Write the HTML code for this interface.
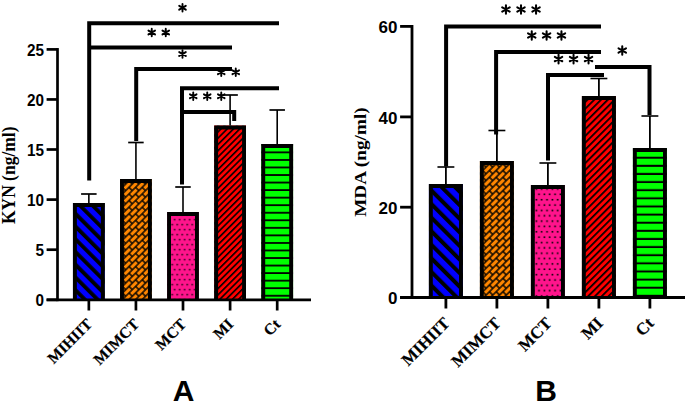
<!DOCTYPE html>
<html><head><meta charset="utf-8"><title>Chart</title>
<style>html,body{margin:0;padding:0;background:#fff;}body{width:685px;height:412px;overflow:hidden;font-family:"Liberation Sans", sans-serif;}svg{display:block;}</style>
</head><body>
<svg width="685" height="412" viewBox="0 0 685 412"><defs><pattern id="ablue" patternUnits="userSpaceOnUse" width="8.994" height="8.994" patternTransform="translate(0 1.080) rotate(-45)"><rect width="8.994" height="8.994" fill="#0000ff"/><rect width="3.778" height="8.994" fill="#000"/></pattern><pattern id="ared" patternUnits="userSpaceOnUse" width="4.432" height="4.432" patternTransform="translate(0 4.000) rotate(45)"><rect width="4.432" height="4.432" fill="#ff0000"/><rect width="1.595" height="4.432" fill="#000"/></pattern><pattern id="agreen" patternUnits="userSpaceOnUse" width="10" height="7.545" patternTransform="translate(0 2.400)"><rect width="10" height="7.545" fill="#00ff00"/><rect y="5.745" width="10" height="1.800" fill="#000"/></pattern><pattern id="apink" patternUnits="userSpaceOnUse" width="5.000" height="10.000" patternTransform="translate(3.450 7.200)"><rect width="5.000" height="10.000" fill="#ff148c"/><rect x="0.530" y="1.780" width="1.440" height="1.440" fill="#000"/><rect x="3.030" y="6.780" width="1.440" height="1.440" fill="#000"/></pattern><pattern id="aorange" patternUnits="userSpaceOnUse" width="9.330" height="9.340" patternTransform="translate(3.450 2.450) rotate(-45)"><rect width="9.330" height="9.340" fill="#000"/><rect x="0.700" y="0.700" width="7.930" height="3.270" fill="#ff8600"/><rect x="-3.965" y="5.370" width="7.930" height="3.270" fill="#ff8600"/><rect x="5.365" y="5.370" width="7.930" height="3.270" fill="#ff8600"/></pattern><pattern id="bblue" patternUnits="userSpaceOnUse" width="9.600" height="9.600" patternTransform="translate(0 -7.300) rotate(-45)"><rect width="9.600" height="9.600" fill="#0000ff"/><rect width="4.032" height="9.600" fill="#000"/></pattern><pattern id="bred" patternUnits="userSpaceOnUse" width="4.808" height="4.808" patternTransform="translate(0 5.980) rotate(45)"><rect width="4.808" height="4.808" fill="#ff0000"/><rect width="1.731" height="4.808" fill="#000"/></pattern><pattern id="bgreen" patternUnits="userSpaceOnUse" width="10" height="8.125" patternTransform="translate(0 4.325)"><rect width="10" height="8.125" fill="#00ff00"/><rect y="6.125" width="10" height="2.000" fill="#000"/></pattern><pattern id="bpink" patternUnits="userSpaceOnUse" width="5.350" height="10.700" patternTransform="translate(0.000 4.450)"><rect width="5.350" height="10.700" fill="#ff148c"/><rect x="0.537" y="1.875" width="1.600" height="1.600" fill="#000"/><rect x="3.212" y="7.225" width="1.600" height="1.600" fill="#000"/></pattern><pattern id="borange" patternUnits="userSpaceOnUse" width="9.517" height="9.527" patternTransform="translate(4.520 1.930) rotate(-45)"><rect width="9.517" height="9.527" fill="#000"/><rect x="0.714" y="0.714" width="8.089" height="3.335" fill="#ff8600"/><rect x="-4.044" y="5.477" width="8.089" height="3.335" fill="#ff8600"/><rect x="5.472" y="5.477" width="8.089" height="3.335" fill="#ff8600"/></pattern></defs><rect width="685" height="412" fill="#fff"/><line x1="88.85" y1="194" x2="88.85" y2="203" stroke="#000" stroke-width="1.6" stroke-linecap="butt"/><line x1="81.1" y1="194" x2="96.6" y2="194" stroke="#000" stroke-width="1.7" stroke-linecap="butt"/><rect x="72.95" y="203.00" width="31.80" height="96.80" fill="url(#ablue)"/><path d="M74.90 299.80V204.95H102.80V299.80" fill="none" stroke="#000" stroke-width="3.9" stroke-linejoin="miter"/><line x1="135.93" y1="142.5" x2="135.93" y2="179" stroke="#000" stroke-width="1.6" stroke-linecap="butt"/><line x1="128.18" y1="142.5" x2="143.68" y2="142.5" stroke="#000" stroke-width="1.7" stroke-linecap="butt"/><rect x="120.03" y="179.00" width="31.80" height="120.80" fill="url(#aorange)"/><path d="M121.98 299.80V180.95H149.88V299.80" fill="none" stroke="#000" stroke-width="3.9" stroke-linejoin="miter"/><line x1="183.0" y1="187" x2="183.0" y2="212" stroke="#000" stroke-width="1.6" stroke-linecap="butt"/><line x1="175.25" y1="187" x2="190.75" y2="187" stroke="#000" stroke-width="1.7" stroke-linecap="butt"/><rect x="167.10" y="212.00" width="31.80" height="87.80" fill="url(#apink)"/><path d="M169.05 299.80V213.95H196.95V299.80" fill="none" stroke="#000" stroke-width="3.9" stroke-linejoin="miter"/><line x1="230.1" y1="95" x2="230.1" y2="125.5" stroke="#000" stroke-width="1.6" stroke-linecap="butt"/><line x1="222.35" y1="95" x2="237.85" y2="95" stroke="#000" stroke-width="1.7" stroke-linecap="butt"/><rect x="214.20" y="125.50" width="31.80" height="174.30" fill="url(#ared)"/><path d="M216.15 299.80V127.45H244.05V299.80" fill="none" stroke="#000" stroke-width="3.9" stroke-linejoin="miter"/><line x1="277.2" y1="110" x2="277.2" y2="144" stroke="#000" stroke-width="1.6" stroke-linecap="butt"/><line x1="269.45" y1="110" x2="284.95" y2="110" stroke="#000" stroke-width="1.7" stroke-linecap="butt"/><rect x="261.30" y="144.00" width="31.80" height="155.80" fill="url(#agreen)"/><path d="M263.25 299.80V145.95H291.15V299.80" fill="none" stroke="#000" stroke-width="3.9" stroke-linejoin="miter"/><line x1="57.5" y1="48.05" x2="57.5" y2="301.15000000000003" stroke="#000" stroke-width="2.7" stroke-linecap="butt"/><line x1="46.6" y1="299.8" x2="311" y2="299.8" stroke="#000" stroke-width="2.7" stroke-linecap="butt"/><line x1="46.6" y1="299.8" x2="57.5" y2="299.8" stroke="#000" stroke-width="2.7" stroke-linecap="butt"/><text transform="translate(43.9 306.10) scale(0.9 1)" text-anchor="end" font-family='"Liberation Sans", sans-serif' font-weight="bold" font-size="17">0</text><line x1="46.6" y1="249.7" x2="57.5" y2="249.7" stroke="#000" stroke-width="2.7" stroke-linecap="butt"/><text transform="translate(43.9 256.00) scale(0.9 1)" text-anchor="end" font-family='"Liberation Sans", sans-serif' font-weight="bold" font-size="17">5</text><line x1="46.6" y1="199.6" x2="57.5" y2="199.6" stroke="#000" stroke-width="2.7" stroke-linecap="butt"/><text transform="translate(43.9 205.90) scale(0.9 1)" text-anchor="end" font-family='"Liberation Sans", sans-serif' font-weight="bold" font-size="17">10</text><line x1="46.6" y1="149.5" x2="57.5" y2="149.5" stroke="#000" stroke-width="2.7" stroke-linecap="butt"/><text transform="translate(43.9 155.80) scale(0.9 1)" text-anchor="end" font-family='"Liberation Sans", sans-serif' font-weight="bold" font-size="17">15</text><line x1="46.6" y1="99.45" x2="57.5" y2="99.45" stroke="#000" stroke-width="2.7" stroke-linecap="butt"/><text transform="translate(43.9 105.75) scale(0.9 1)" text-anchor="end" font-family='"Liberation Sans", sans-serif' font-weight="bold" font-size="17">20</text><line x1="46.6" y1="49.4" x2="57.5" y2="49.4" stroke="#000" stroke-width="2.7" stroke-linecap="butt"/><text transform="translate(43.9 55.70) scale(0.9 1)" text-anchor="end" font-family='"Liberation Sans", sans-serif' font-weight="bold" font-size="17">25</text><line x1="88.85" y1="299.8" x2="88.85" y2="310.5" stroke="#000" stroke-width="2.7" stroke-linecap="butt"/><line x1="135.93" y1="299.8" x2="135.93" y2="310.5" stroke="#000" stroke-width="2.7" stroke-linecap="butt"/><line x1="183.0" y1="299.8" x2="183.0" y2="310.5" stroke="#000" stroke-width="2.7" stroke-linecap="butt"/><line x1="230.1" y1="299.8" x2="230.1" y2="310.5" stroke="#000" stroke-width="2.7" stroke-linecap="butt"/><line x1="277.2" y1="299.8" x2="277.2" y2="310.5" stroke="#000" stroke-width="2.7" stroke-linecap="butt"/><text transform="translate(93.05 325.20) rotate(-45)" text-anchor="end" font-family='"Liberation Serif", serif' font-weight="bold" font-size="15.6" stroke="#000" stroke-width="0.2">MIHIIT</text><text transform="translate(140.13 325.20) rotate(-45)" text-anchor="end" font-family='"Liberation Serif", serif' font-weight="bold" font-size="15.6" stroke="#000" stroke-width="0.2">MIMCT</text><text transform="translate(187.20 325.20) rotate(-45)" text-anchor="end" font-family='"Liberation Serif", serif' font-weight="bold" font-size="15.6" stroke="#000" stroke-width="0.2">MCT</text><text transform="translate(234.30 325.20) rotate(-45)" text-anchor="end" font-family='"Liberation Serif", serif' font-weight="bold" font-size="15.6" stroke="#000" stroke-width="0.2">MI</text><text transform="translate(281.40 325.20) rotate(-45)" text-anchor="end" font-family='"Liberation Serif", serif' font-weight="bold" font-size="15.6" stroke="#000" stroke-width="0.2">Ct</text><text transform="translate(14.6 175.3) rotate(-90)" text-anchor="middle" font-family='"Liberation Serif", serif' font-weight="bold" font-size="17.8" textLength="97.5" lengthAdjust="spacingAndGlyphs">KYN (ng/ml)</text><text x="183.7" y="401" text-anchor="middle" font-family='"Liberation Sans", sans-serif' font-weight="bold" font-size="30">A</text><path d="M89.2 180.5 L89.2 23.2 L279 23.2" stroke="#000" stroke-width="4" fill="none" stroke-linejoin="miter" stroke-linecap="butt"/><path d="M89.2 47.5 L232 47.5" stroke="#000" stroke-width="4" fill="none" stroke-linejoin="miter" stroke-linecap="butt"/><path d="M136.2 141 L136.2 69 L232 69" stroke="#000" stroke-width="4" fill="none" stroke-linejoin="miter" stroke-linecap="butt"/><path d="M182 184.5 L182 88.2 L279 88.2" stroke="#000" stroke-width="4" fill="none" stroke-linejoin="miter" stroke-linecap="butt"/><path d="M182 112 L234.2 112 L234.2 121" stroke="#000" stroke-width="4" fill="none" stroke-linejoin="miter" stroke-linecap="butt"/><path d="M182.50 3.95L182.50 11.55M179.21 5.85L185.79 9.65M185.79 5.85L179.21 9.65" stroke="#000" stroke-width="1.9" stroke-linecap="round" fill="none"/><path d="M151.74 28.70L151.74 36.30M148.45 30.60L155.03 34.40M155.03 30.60L148.45 34.40" stroke="#000" stroke-width="1.9" stroke-linecap="round" fill="none"/><path d="M165.76 28.70L165.76 36.30M162.47 30.60L169.05 34.40M169.05 30.60L162.47 34.40" stroke="#000" stroke-width="1.9" stroke-linecap="round" fill="none"/><path d="M182.50 50.20L182.50 57.80M179.21 52.10L185.79 55.90M185.79 52.10L179.21 55.90" stroke="#000" stroke-width="1.9" stroke-linecap="round" fill="none"/><path d="M221.24 68.45L221.24 76.05M217.95 70.35L224.53 74.15M224.53 70.35L217.95 74.15" stroke="#000" stroke-width="1.9" stroke-linecap="round" fill="none"/><path d="M235.76 68.45L235.76 76.05M232.47 70.35L239.05 74.15M239.05 70.35L232.47 74.15" stroke="#000" stroke-width="1.9" stroke-linecap="round" fill="none"/><path d="M193.24 92.45L193.24 100.05M189.95 94.35L196.53 98.15M196.53 94.35L189.95 98.15" stroke="#000" stroke-width="1.9" stroke-linecap="round" fill="none"/><path d="M207.25 92.45L207.25 100.05M203.96 94.35L210.54 98.15M210.54 94.35L203.96 98.15" stroke="#000" stroke-width="1.9" stroke-linecap="round" fill="none"/><path d="M221.26 92.45L221.26 100.05M217.97 94.35L224.55 98.15M224.55 94.35L217.97 98.15" stroke="#000" stroke-width="1.9" stroke-linecap="round" fill="none"/><line x1="445.9" y1="167" x2="445.9" y2="184" stroke="#000" stroke-width="1.8" stroke-linecap="butt"/><line x1="437.45" y1="167" x2="454.34999999999997" y2="167" stroke="#000" stroke-width="1.6" stroke-linecap="butt"/><rect x="428.90" y="184.00" width="34.00" height="113.50" fill="url(#bblue)"/><path d="M430.85 297.50V185.95H460.95V297.50" fill="none" stroke="#000" stroke-width="3.9" stroke-linejoin="miter"/><line x1="496.9" y1="130.5" x2="496.9" y2="161" stroke="#000" stroke-width="1.8" stroke-linecap="butt"/><line x1="488.45" y1="130.5" x2="505.34999999999997" y2="130.5" stroke="#000" stroke-width="1.6" stroke-linecap="butt"/><rect x="479.90" y="161.00" width="34.00" height="136.50" fill="url(#borange)"/><path d="M481.85 297.50V162.95H511.95V297.50" fill="none" stroke="#000" stroke-width="3.9" stroke-linejoin="miter"/><line x1="547.9" y1="163" x2="547.9" y2="185" stroke="#000" stroke-width="1.8" stroke-linecap="butt"/><line x1="539.4499999999999" y1="163" x2="556.35" y2="163" stroke="#000" stroke-width="1.6" stroke-linecap="butt"/><rect x="530.90" y="185.00" width="34.00" height="112.50" fill="url(#bpink)"/><path d="M532.85 297.50V186.95H562.95V297.50" fill="none" stroke="#000" stroke-width="3.9" stroke-linejoin="miter"/><line x1="598.9" y1="78.5" x2="598.9" y2="96" stroke="#000" stroke-width="1.8" stroke-linecap="butt"/><line x1="590.4499999999999" y1="78.5" x2="607.35" y2="78.5" stroke="#000" stroke-width="1.6" stroke-linecap="butt"/><rect x="581.90" y="96.00" width="34.00" height="201.50" fill="url(#bred)"/><path d="M583.85 297.50V97.95H613.95V297.50" fill="none" stroke="#000" stroke-width="3.9" stroke-linejoin="miter"/><line x1="649.9" y1="116" x2="649.9" y2="148" stroke="#000" stroke-width="1.8" stroke-linecap="butt"/><line x1="641.4499999999999" y1="116" x2="658.35" y2="116" stroke="#000" stroke-width="1.6" stroke-linecap="butt"/><rect x="632.90" y="148.00" width="34.00" height="149.50" fill="url(#bgreen)"/><path d="M634.85 297.50V149.95H664.95V297.50" fill="none" stroke="#000" stroke-width="3.9" stroke-linejoin="miter"/><line x1="412.0" y1="25.0" x2="412.0" y2="298.9" stroke="#000" stroke-width="2.8" stroke-linecap="butt"/><line x1="400.1" y1="297.5" x2="690" y2="297.5" stroke="#000" stroke-width="2.8" stroke-linecap="butt"/><line x1="400.1" y1="297.5" x2="412.0" y2="297.5" stroke="#000" stroke-width="2.8" stroke-linecap="butt"/><text transform="translate(397.4 304.10) scale(1 1)" text-anchor="end" font-family='"Liberation Sans", sans-serif' font-weight="bold" font-size="17">0</text><line x1="400.1" y1="207.2" x2="412.0" y2="207.2" stroke="#000" stroke-width="2.8" stroke-linecap="butt"/><text transform="translate(397.4 213.80) scale(1 1)" text-anchor="end" font-family='"Liberation Sans", sans-serif' font-weight="bold" font-size="17">20</text><line x1="400.1" y1="116.9" x2="412.0" y2="116.9" stroke="#000" stroke-width="2.8" stroke-linecap="butt"/><text transform="translate(397.4 123.50) scale(1 1)" text-anchor="end" font-family='"Liberation Sans", sans-serif' font-weight="bold" font-size="17">40</text><line x1="400.1" y1="26.4" x2="412.0" y2="26.4" stroke="#000" stroke-width="2.8" stroke-linecap="butt"/><text transform="translate(397.4 33.00) scale(1 1)" text-anchor="end" font-family='"Liberation Sans", sans-serif' font-weight="bold" font-size="17">60</text><line x1="445.9" y1="297.5" x2="445.9" y2="308.5" stroke="#000" stroke-width="2.8" stroke-linecap="butt"/><line x1="496.9" y1="297.5" x2="496.9" y2="308.5" stroke="#000" stroke-width="2.8" stroke-linecap="butt"/><line x1="547.9" y1="297.5" x2="547.9" y2="308.5" stroke="#000" stroke-width="2.8" stroke-linecap="butt"/><line x1="598.9" y1="297.5" x2="598.9" y2="308.5" stroke="#000" stroke-width="2.8" stroke-linecap="butt"/><line x1="649.9" y1="297.5" x2="649.9" y2="308.5" stroke="#000" stroke-width="2.8" stroke-linecap="butt"/><text transform="translate(450.80 324.30) rotate(-45)" text-anchor="end" font-family='"Liberation Serif", serif' font-weight="bold" font-size="16.9" stroke="#000" stroke-width="0.2">MIHIIT</text><text transform="translate(501.80 324.30) rotate(-45)" text-anchor="end" font-family='"Liberation Serif", serif' font-weight="bold" font-size="16.9" stroke="#000" stroke-width="0.2">MIMCT</text><text transform="translate(552.80 324.30) rotate(-45)" text-anchor="end" font-family='"Liberation Serif", serif' font-weight="bold" font-size="16.9" stroke="#000" stroke-width="0.2">MCT</text><text transform="translate(603.80 324.30) rotate(-45)" text-anchor="end" font-family='"Liberation Serif", serif' font-weight="bold" font-size="16.9" stroke="#000" stroke-width="0.2">MI</text><text transform="translate(654.80 324.30) rotate(-45)" text-anchor="end" font-family='"Liberation Serif", serif' font-weight="bold" font-size="16.9" stroke="#000" stroke-width="0.2">Ct</text><text transform="translate(365.7 162.05) rotate(-90)" text-anchor="middle" font-family='"Liberation Serif", serif' font-weight="bold" font-size="17.3" textLength="109.5" lengthAdjust="spacingAndGlyphs">MDA (ng/ml)</text><text x="546.2" y="401" text-anchor="middle" font-family='"Liberation Sans", sans-serif' font-weight="bold" font-size="30">B</text><path d="M446.1 166.5 L446.1 26.5 L601 26.5" stroke="#000" stroke-width="4" fill="none" stroke-linejoin="miter" stroke-linecap="butt"/><path d="M496.1 134.6 L496.1 52 L601 52" stroke="#000" stroke-width="4" fill="none" stroke-linejoin="miter" stroke-linecap="butt"/><path d="M548 160.5 L548 75 L604 75" stroke="#000" stroke-width="4" fill="none" stroke-linejoin="miter" stroke-linecap="butt"/><path d="M595 67 L649.5 67 L649.5 115" stroke="#000" stroke-width="4" fill="none" stroke-linejoin="miter" stroke-linecap="butt"/><path d="M505.95 5.15L505.95 13.75M502.23 7.30L509.67 11.60M509.67 7.30L502.23 11.60" stroke="#000" stroke-width="2.05" stroke-linecap="round" fill="none"/><path d="M521.00 5.15L521.00 13.75M517.28 7.30L524.72 11.60M524.72 7.30L517.28 11.60" stroke="#000" stroke-width="2.05" stroke-linecap="round" fill="none"/><path d="M536.05 5.15L536.05 13.75M532.33 7.30L539.77 11.60M539.77 7.30L532.33 11.60" stroke="#000" stroke-width="2.05" stroke-linecap="round" fill="none"/><path d="M531.75 31.15L531.75 39.75M528.02 33.30L535.47 37.60M535.47 33.30L528.02 37.60" stroke="#000" stroke-width="2.05" stroke-linecap="round" fill="none"/><path d="M546.60 31.15L546.60 39.75M542.88 33.30L550.32 37.60M550.32 33.30L542.88 37.60" stroke="#000" stroke-width="2.05" stroke-linecap="round" fill="none"/><path d="M561.45 31.15L561.45 39.75M557.73 33.30L565.18 37.60M565.18 33.30L557.73 37.60" stroke="#000" stroke-width="2.05" stroke-linecap="round" fill="none"/><path d="M558.55 54.80L558.55 63.40M554.82 56.95L562.27 61.25M562.27 56.95L554.82 61.25" stroke="#000" stroke-width="2.05" stroke-linecap="round" fill="none"/><path d="M573.55 54.80L573.55 63.40M569.83 56.95L577.27 61.25M577.27 56.95L569.83 61.25" stroke="#000" stroke-width="2.05" stroke-linecap="round" fill="none"/><path d="M588.55 54.80L588.55 63.40M584.83 56.95L592.27 61.25M592.27 56.95L584.83 61.25" stroke="#000" stroke-width="2.05" stroke-linecap="round" fill="none"/><path d="M622.25 46.20L622.25 54.80M618.53 48.35L625.97 52.65M625.97 48.35L618.53 52.65" stroke="#000" stroke-width="2.05" stroke-linecap="round" fill="none"/></svg>
</body></html>
